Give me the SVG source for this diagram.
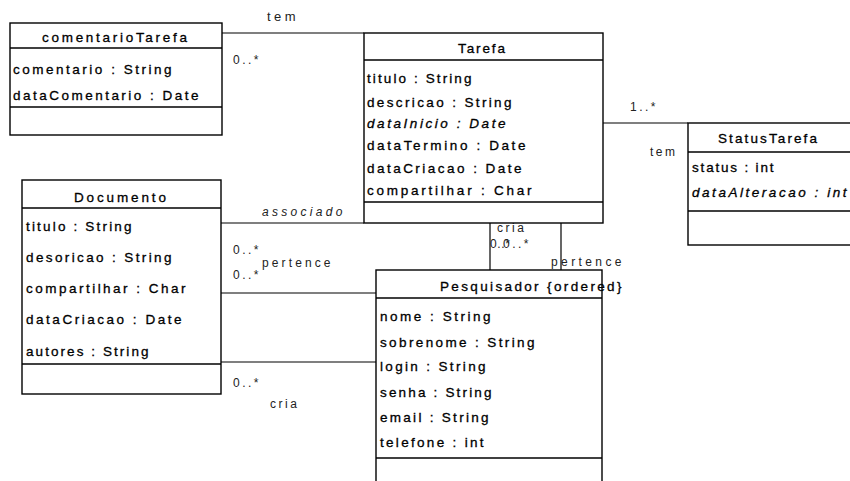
<svg xmlns="http://www.w3.org/2000/svg" width="850" height="481" viewBox="0 0 850 481">
<style>
  .box{fill:#fff;stroke:#000;stroke-width:1.4}
  .div{stroke:#000;stroke-width:1.4}
  .con{stroke:#000;stroke-width:1.2;fill:none}
  text{font-family:"Liberation Sans",Arial,sans-serif;fill:#000}
  .h{font-size:13.5px;letter-spacing:3px;stroke:#000;stroke-width:0.3}
  .a{font-size:13.5px;letter-spacing:1.5px;stroke:#000;stroke-width:0.3}
  .i{font-style:italic}
  .l{font-size:12px;letter-spacing:2.5px;fill:#222}
</style>
<rect width="850" height="481" fill="#fff"/>
<g id="connectors">
  <path class="con" d="M222,33 H364"/>
  <path class="con" d="M603,123 H688"/>
  <path class="con" d="M221,223 H364"/>
  <path class="con" d="M221,293 H376"/>
  <path class="con" d="M221,362 H376"/>
  <path class="con" d="M490,223 V270"/>
  <path class="con" d="M561,223 V270"/>
  <text class="l" x="267" y="21" textLength="31" lengthAdjust="spacing" style="font-size:13px">tem</text>
  <text class="l" x="233" y="64">0..*</text>
  <text class="l" x="630" y="111">1..*</text>
  <text class="l" x="650" y="156">tem</text>
  <text class="l i" x="262" y="216" textLength="83" lengthAdjust="spacing">associado</text>
  <text class="l" x="233" y="254">0..*</text>
  <text class="l" x="262" y="267" textLength="71" lengthAdjust="spacing">pertence</text>
  <text class="l" x="233" y="279">0..*</text>
  <text class="l" x="233" y="387">0..*</text>
  <text class="l" x="270" y="408">cria</text>
  <text class="l" x="497" y="232">cria</text>
  <text class="l" x="490" y="248" style="letter-spacing:0.6px">0..*</text>
  <text class="l" x="503" y="248">0..*</text>
  <text class="l" x="551" y="266" textLength="73" lengthAdjust="spacing">pertence</text>
</g>
<g id="comentarioTarefa">
  <rect class="box" x="10" y="23" width="212" height="112"/>
  <line class="div" x1="10" y1="48" x2="222" y2="48"/>
  <line class="div" x1="10" y1="107" x2="222" y2="107"/>
  <text class="h" x="42" y="42" textLength="148" lengthAdjust="spacing">comentarioTarefa</text>
  <text class="a" x="13" y="74" textLength="160" lengthAdjust="spacing">comentario : String</text>
  <text class="a" x="13" y="100" textLength="187" lengthAdjust="spacing">dataComentario : Date</text>
</g>
<g id="Tarefa">
  <rect class="box" x="364" y="33" width="239" height="190"/>
  <line class="div" x1="364" y1="60" x2="603" y2="60"/>
  <line class="div" x1="364" y1="202" x2="603" y2="202"/>
  <text class="h" x="458" y="53" textLength="50" lengthAdjust="spacing">Tarefa</text>
  <text class="a" x="367" y="83" textLength="106" lengthAdjust="spacing">titulo : String</text>
  <text class="a" x="367" y="107" textLength="146" lengthAdjust="spacing">descricao : String</text>
  <text class="a i" x="367" y="128" textLength="140" lengthAdjust="spacing">dataInicio : Date</text>
  <text class="a" x="367" y="150" textLength="160" lengthAdjust="spacing">dataTermino : Date</text>
  <text class="a" x="367" y="173" textLength="156" lengthAdjust="spacing">dataCriacao : Date</text>
  <text class="a" x="367" y="195" textLength="166" lengthAdjust="spacing">compartilhar : Char</text>
</g>
<g id="StatusTarefa">
  <rect class="box" x="688" y="123" width="175" height="122"/>
  <line class="div" x1="688" y1="152" x2="863" y2="152"/>
  <line class="div" x1="688" y1="211" x2="863" y2="211"/>
  <text class="h" x="718" y="143" textLength="102" lengthAdjust="spacing">StatusTarefa</text>
  <text class="a" x="692" y="172" textLength="83" lengthAdjust="spacing">status : int</text>
  <text class="a i" x="692" y="197" textLength="156" lengthAdjust="spacing">dataAlteracao : int</text>
</g>
<g id="Documento">
  <rect class="box" x="22" y="180" width="199" height="214"/>
  <line class="div" x1="22" y1="208" x2="221" y2="208"/>
  <line class="div" x1="22" y1="364" x2="221" y2="364"/>
  <text class="h" x="74" y="202" textLength="95" lengthAdjust="spacing">Documento</text>
  <text class="a" x="26" y="231" textLength="107" lengthAdjust="spacing">titulo : String</text>
  <text class="a" x="26" y="262" textLength="147" lengthAdjust="spacing">desoricao : String</text>
  <text class="a" x="26" y="293" textLength="161" lengthAdjust="spacing">compartilhar : Char</text>
  <text class="a" x="26" y="324" textLength="157" lengthAdjust="spacing">dataCriacao : Date</text>
  <text class="a" x="26" y="356" textLength="124" lengthAdjust="spacing">autores : String</text>
</g>
<g id="Pesquisador">
  <rect class="box" x="376" y="270" width="226" height="230"/>
  <line class="div" x1="376" y1="298" x2="602" y2="298"/>
  <line class="div" x1="376" y1="458" x2="602" y2="458"/>
  <text class="a" x="440" y="291" textLength="184" lengthAdjust="spacing" style="letter-spacing:2.5px">Pesquisador {ordered}</text>
  <text class="a" x="380" y="321" textLength="112" lengthAdjust="spacing">nome : String</text>
  <text class="a" x="380" y="347" textLength="156" lengthAdjust="spacing">sobrenome : String</text>
  <text class="a" x="380" y="371" textLength="107" lengthAdjust="spacing">login : String</text>
  <text class="a" x="380" y="397" textLength="113" lengthAdjust="spacing">senha : String</text>
  <text class="a" x="380" y="422" textLength="110" lengthAdjust="spacing">email : String</text>
  <text class="a" x="380" y="447" textLength="105" lengthAdjust="spacing">telefone : int</text>
</g>
</svg>
